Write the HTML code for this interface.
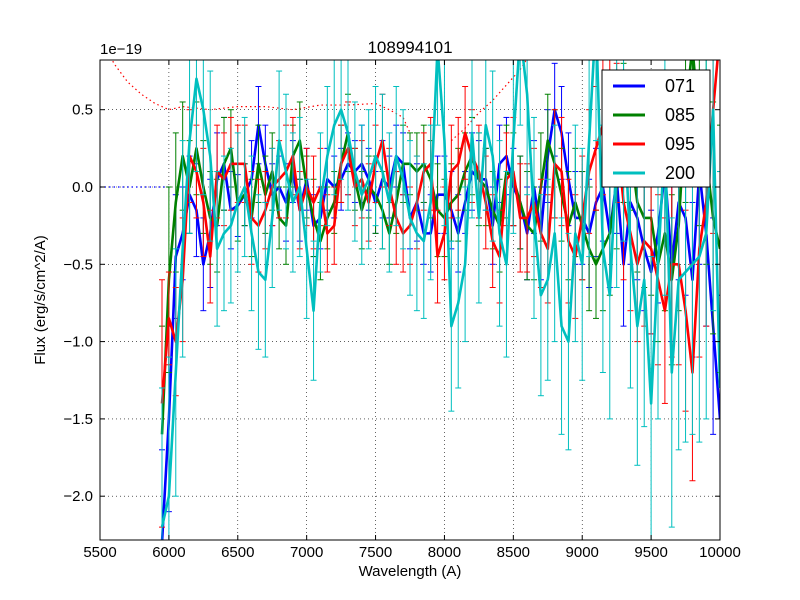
<!DOCTYPE html>
<html><head><meta charset="utf-8"><style>
html,body{margin:0;padding:0;background:#fff;overflow:hidden;width:800px;height:600px;}
svg{display:block;}
svg text{font-family:"Liberation Sans","DejaVu Sans",sans-serif;}
</style></head><body>
<svg id="chart" width="800" height="600" xmlns="http://www.w3.org/2000/svg">
<rect width="800" height="600" fill="#fff"/>
<defs><clipPath id="pc"><rect x="100" y="60" width="620" height="480"/></clipPath></defs>
<g id="grid"></g>
<g id="marks" clip-path="url(#pc)"></g>
<rect x="100" y="60" width="620" height="480" fill="none" stroke="#000" stroke-width="1"/>
<g id="axes"></g>
<text x="410" y="53" text-anchor="middle" font-size="17">108994101</text>
<text x="100" y="54" font-size="15">1e−19</text>
<text x="410" y="576" text-anchor="middle" font-size="15">Wavelength (A)</text>
<text x="45" y="300" text-anchor="middle" font-size="15" transform="rotate(-90 45 300)">Flux (erg/s/cm^2/A)</text>
<g>
<rect x="602" y="70" width="108" height="117" fill="#fff" stroke="#000"/>
<line x1="613" y1="86" x2="645" y2="86" stroke="#0000ff" stroke-width="3"/>
<text x="665" y="92" font-size="18">071</text>
<line x1="613" y1="115" x2="645" y2="115" stroke="#008000" stroke-width="3"/>
<text x="665" y="121" font-size="18">085</text>
<line x1="613" y1="144" x2="645" y2="144" stroke="#ff0000" stroke-width="3"/>
<text x="665" y="150" font-size="18">095</text>
<line x1="613" y1="173" x2="645" y2="173" stroke="#00bfbf" stroke-width="3"/>
<text x="665" y="179" font-size="18">200</text>
</g>
</svg>
<script>
const xTicks=[5500,6000,6500,7000,7500,8000,8500,9000,9500,10000];
const yTicks=[0.5,0.0,-0.5,-1.0,-1.5,-2.0];
const yTickLabels=["0.5","0.0","−0.5","−1.0","−1.5","−2.0"];
const startWave=5950, stepWave=50;
const s071=[-2.3,-1.5,-0.45,-0.3,-0.05,-0.15,-0.5,-0.3,0.05,0.15,-0.15,-0.12,-0.05,0.05,0.4,0.15,-0.05,0.0,-0.1,0.1,-0.15,0.05,-0.25,-0.2,0.05,0.0,0.05,0.15,0.1,0.15,0.05,-0.1,0.05,0.0,0.2,0.15,-0.2,-0.1,-0.3,-0.3,-0.05,-0.05,-0.15,-0.3,-0.1,0.1,0.05,0.05,-0.25,0.15,0.2,0.0,-0.1,-0.3,0.0,-0.3,0.2,0.5,0.35,0.05,-0.2,-0.2,-0.3,-0.1,0.0,-0.3,0.05,-0.5,-0.1,-0.2,-0.4,-0.55,-0.3,0.1,-0.5,-0.1,-0.2,-0.6,0.1,-0.3,-0.9,-1.5];
const s085=[-1.6,-0.6,-0.1,0.2,0.0,0.25,0.0,-0.2,-0.25,0.15,0.25,-0.1,-0.05,-0.2,0.15,-0.05,0.1,-0.2,-0.25,0.2,0.3,0.0,-0.2,-0.35,-0.2,-0.1,0.15,0.35,0.05,-0.15,0.0,-0.05,-0.15,-0.3,-0.1,0.15,0.15,0.1,0.15,0.05,-0.15,-0.2,-0.1,-0.05,0.1,0.2,0.05,0.0,-0.15,-0.25,0.1,0.05,-0.1,-0.25,-0.3,0.0,0.3,0.15,-0.05,-0.25,-0.1,-0.25,-0.4,-0.5,-0.4,-0.3,0.0,0.35,0.25,-0.1,-0.2,-0.2,-0.5,-0.3,-0.6,-0.25,0.5,0.9,0.4,0.2,-0.2,-0.4];
const s095=[-1.4,-0.85,-1.0,-0.6,0.2,0.1,-0.1,-0.45,0.1,0.05,0.15,0.15,0.15,-0.2,-0.25,-0.15,0.0,0.05,0.1,0.2,-0.15,0.0,-0.1,0.0,-0.3,-0.25,0.15,0.25,0.0,0.05,-0.1,0.15,0.3,0.0,-0.2,-0.3,-0.25,-0.1,0.1,0.15,-0.45,-0.3,0.1,0.15,0.35,0.2,0.1,-0.1,-0.35,-0.45,0.05,0.1,-0.2,-0.2,-0.1,-0.3,-0.4,0.15,0.1,-0.35,-0.45,-0.2,0.1,0.25,0.4,0.45,0.35,-0.1,-0.3,-0.5,-0.35,-0.4,-0.6,-0.8,-0.5,-0.5,-0.8,-1.2,-0.4,-0.1,0.5,1.0];
const s200=[-2.2,-2.0,-1.2,-0.4,0.3,0.7,0.5,0.2,-0.4,-0.3,-0.25,-0.1,0.0,-0.3,-0.55,-0.6,-0.2,0.3,0.1,-0.1,0.0,-0.4,-0.8,-0.1,0.2,0.4,0.5,0.35,0.1,-0.05,0.05,0.2,0.1,-0.1,0.2,0.05,-0.2,-0.3,-0.35,-0.1,0.9,0.3,-0.9,-0.75,-0.5,0.35,-0.2,0.4,0.2,-0.3,-0.5,0.3,1.0,0.6,-0.2,-0.7,-0.6,-0.3,-0.9,-1.0,-0.3,-0.5,0.3,1.1,-0.4,-0.7,0.2,0.5,-0.4,-0.9,-0.6,-1.4,-0.5,0.3,-1.2,-0.6,-0.55,-0.5,-0.45,-0.3,0.5,-1.3];
const e071=[0.6,0.6,0.4,0.3,0.25,0.3,0.3,0.35,0.3,0.3,0.25,0.2,0.2,0.25,0.25,0.25,0.2,0.2,0.25,0.2,0.2,0.2,0.2,0.2,0.2,0.2,0.2,0.2,0.2,0.25,0.2,0.2,0.25,0.2,0.2,0.2,0.2,0.25,0.2,0.25,0.25,0.25,0.25,0.25,0.2,0.25,0.25,0.2,0.25,0.25,0.25,0.25,0.3,0.3,0.3,0.3,0.3,0.3,0.3,0.3,0.3,0.3,0.35,0.35,0.35,0.35,0.35,0.4,0.4,0.4,0.4,0.4,0.45,0.45,0.5,0.5,0.5,0.5,0.6,0.6,0.7,0.8];
const e085=[0.7,0.6,0.45,0.35,0.3,0.3,0.3,0.3,0.3,0.3,0.25,0.25,0.2,0.25,0.25,0.25,0.25,0.2,0.25,0.2,0.25,0.2,0.25,0.25,0.2,0.2,0.25,0.25,0.2,0.25,0.2,0.25,0.25,0.2,0.2,0.25,0.2,0.25,0.25,0.25,0.3,0.25,0.25,0.3,0.25,0.25,0.3,0.25,0.25,0.3,0.3,0.3,0.3,0.35,0.3,0.35,0.3,0.35,0.3,0.35,0.35,0.35,0.4,0.35,0.4,0.4,0.4,0.45,0.4,0.45,0.45,0.5,0.5,0.5,0.55,0.55,0.6,0.6,0.65,0.7,0.75,0.8];
const e095=[0.8,0.3,0.35,0.4,0.3,0.3,0.35,0.3,0.3,0.3,0.3,0.25,0.25,0.3,0.3,0.25,0.25,0.25,0.3,0.25,0.25,0.25,0.3,0.25,0.25,0.25,0.25,0.3,0.25,0.25,0.25,0.25,0.3,0.25,0.3,0.25,0.25,0.3,0.25,0.3,0.3,0.3,0.3,0.3,0.3,0.3,0.3,0.3,0.3,0.3,0.3,0.35,0.35,0.35,0.35,0.35,0.35,0.35,0.35,0.4,0.4,0.4,0.4,0.4,0.45,0.45,0.45,0.5,0.5,0.5,0.55,0.55,0.55,0.6,0.6,0.65,0.65,0.7,0.7,0.8,0.8,0.9];
const e200=[0.9,0.9,0.8,0.7,0.6,0.6,0.55,0.55,0.5,0.5,0.5,0.45,0.45,0.5,0.5,0.5,0.45,0.45,0.5,0.45,0.45,0.45,0.45,0.45,0.45,0.45,0.45,0.5,0.45,0.45,0.45,0.45,0.5,0.45,0.45,0.45,0.5,0.5,0.5,0.5,0.5,0.55,0.55,0.55,0.5,0.55,0.55,0.55,0.55,0.6,0.6,0.6,0.6,0.65,0.65,0.65,0.65,0.7,0.7,0.7,0.7,0.75,0.75,0.8,0.8,0.8,0.85,0.85,0.9,0.9,0.95,0.95,1.0,1.0,1.0,1.1,1.1,1.1,1.2,1.2,1.3,1.4];
const skyWave=[5500,5600,5700,5800,5900,6000,6100,6300,6500,6700,6900,7100,7300,7500,7600,7700,7750];
const skyVal=[1.0,0.8,0.68,0.6,0.54,0.5,0.52,0.5,0.52,0.52,0.5,0.53,0.53,0.54,0.5,0.45,0.35];
const sky2Wave=[8050,8150,8250,8350,8450,8550,8650];
const sky2Val=[0.3,0.38,0.48,0.56,0.66,0.76,0.9];
const baseWave=[5500,6000];
const baseVal=[0.0,0.0];

const X=w=>100+(w-5500)*620/4500;
const Y=v=>187-v*154.6;
const NS="http://www.w3.org/2000/svg";
const mk=(p,t,a)=>{const e=document.createElementNS(NS,t);for(const k in a)e.setAttribute(k,a[k]);p.appendChild(e);return e;};
const grid=document.getElementById('grid'),marks=document.getElementById('marks'),axes=document.getElementById('axes');
xTicks.forEach((t,i)=>{
  const g=mk(grid,'line',{x1:X(t),x2:X(t),y1:60,y2:540,stroke:'#000','stroke-width':0.6,'stroke-dasharray':'1,3'});
  
  
  mk(axes,'line',{x1:X(t),x2:X(t),y1:540,y2:535,stroke:'#000'});
  mk(axes,'line',{x1:X(t),x2:X(t),y1:60,y2:65,stroke:'#000'});
  const tx=mk(axes,'text',{x:X(t),y:557,'text-anchor':'middle','font-size':15});
  tx.textContent=t;
  
  
});
yTicks.forEach((t,i)=>{
  const g=mk(grid,'line',{x1:100,x2:720,y1:Y(t),y2:Y(t),stroke:'#000','stroke-width':0.6,'stroke-dasharray':'1,3'});
  
  
  mk(axes,'line',{x1:100,x2:105,y1:Y(t),y2:Y(t),stroke:'#000'});
  mk(axes,'line',{x1:715,x2:720,y1:Y(t),y2:Y(t),stroke:'#000'});
  const tx=mk(axes,'text',{x:93,y:Y(t)+5,'text-anchor':'end','font-size':15});
  tx.textContent=yTickLabels[i];
  
  
});
function dotted(ws,vs,col,name){
  const p=mk(marks,'polyline',{points:ws.map((w,i)=>X(w)+','+Y(vs[i])).join(' '),fill:'none',stroke:col,'stroke-width':1.2,'stroke-dasharray':'1.5,3'});
  
  
}
dotted(skyWave,skyVal,'#ff0000','sky-model-line');
dotted(sky2Wave,sky2Val,'#ff0000','sky-model-line-red');
dotted(baseWave,baseVal,'#0000ff','baseline-dotted');
function series(vals,errs,col,name){
  const g=mk(marks,'g',{});
  
  
  vals.forEach((v,i)=>{
    const x=X(startWave+stepWave*i),y1=Y(v+errs[i]),y2=Y(v-errs[i]);
    mk(g,'line',{x1:x,x2:x,y1:y1,y2:y2,stroke:col,'stroke-width':1});
    mk(g,'line',{x1:x-3,x2:x+3,y1:y1,y2:y1,stroke:col,'stroke-width':1});
    mk(g,'line',{x1:x-3,x2:x+3,y1:y2,y2:y2,stroke:col,'stroke-width':1});
  });
  const p=mk(g,'polyline',{points:vals.map((v,i)=>X(startWave+stepWave*i)+','+Y(v)).join(' '),fill:'none',stroke:col,'stroke-width':2.6,'stroke-linejoin':'round'});
  
  
}
series(s071,e071,'#0000ff','071');
series(s085,e085,'#008000','085');
series(s095,e095,'#ff0000','095');
series(s200,e200,'#00bfbf','200');
</script>
</body></html>
